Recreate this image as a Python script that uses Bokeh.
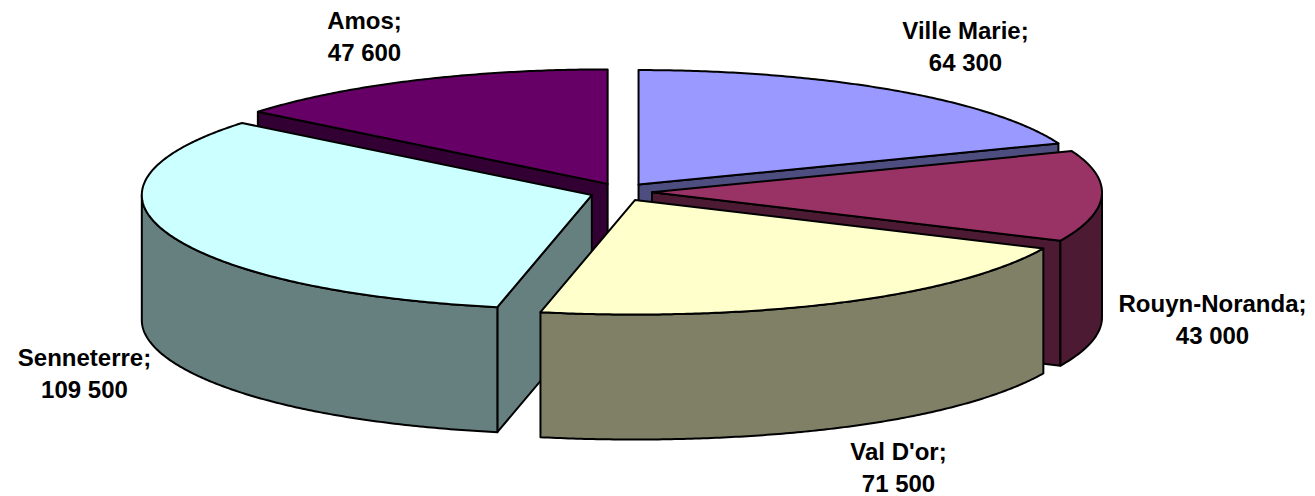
import math
from bokeh.plotting import figure
from bokeh.embed import file_html
from bokeh.resources import INLINE
from bokeh.core.properties import value as bk_value

names = ["Ville Marie", "Rouyn-Noranda", "Val D'or", "Senneterre", "Amos"]
values = [64300, 43000, 71500, 109500, 47600]
top_colors = ["#9999FF", "#993366", "#FFFFCC", "#CCFFFF", "#660066"]
wall_colors = ["#4D4D80", "#4D1A33", "#808066", "#668080", "#330033"]

# layout of the projected pie, in screen pixels
CX, CY, RX, RY = 620.5, 191.5, 450.0, 114.5
DEPTH = 125.0
EX, EY = 31.0, 9.0
FRONT_WIDEN = 0.045  # slight perspective widening at the front of the pie
label_x = [965, 1212, 898, 84, 364]
label_y = [30, 303, 451, 357, 20]
LINE_GAP = 32
PAINT_ORDER = [4, 0, 3, 1, 2]

p = figure(width=1315, height=496, x_range=(0, 1315), y_range=(496, 0),
           output_backend="svg", toolbar_location=None, min_border=0)
p.axis.visible = False
p.grid.visible = False
p.outline_line_color = None

total = sum(values)
spans = []
acc = 0.0
for v in values:
    spans.append((acc, acc + 360.0 * v / total))
    acc = spans[-1][1]


def rim(cx, cy, t0, t1, dz=0.0):
    n = max(2, int((t1 - t0) * 2))
    pts = []
    for i in range(n + 1):
        t = math.radians(t0 + (t1 - t0) * i / n)
        c = math.cos(t)
        widen = 1 + FRONT_WIDEN * c ** 4 if c < 0 else 1
        pts.append((cx + RX * math.sin(t) * widen, cy - RY * c + dz))
    return pts


def poly(pts, color):
    p.patch([q[0] for q in pts], [q[1] for q in pts], fill_color=color,
            line_color="black", line_width=2, line_join="round")


for i in PAINT_ORDER:
    t0, t1 = spans[i]
    mid = math.radians((t0 + t1) / 2)
    cx = CX + EX * math.sin(mid)
    cy = CY - EY * math.cos(mid)
    a = rim(cx, cy, t0, t0 + 1e-6)[0]
    b = rim(cx, cy, t1 - 1e-6, t1)[-1]
    # radial cut faces that look towards the viewer
    if 180 < t0 < 360:
        poly([(cx, cy), a, (a[0], a[1] + DEPTH), (cx, cy + DEPTH)], wall_colors[i])
    if 0 < t1 < 180:
        poly([(cx, cy), b, (b[0], b[1] + DEPTH), (cx, cy + DEPTH)], wall_colors[i])
    # outer wall, front half only
    w0, w1 = max(t0, 90), min(t1, 270)
    if w1 > w0:
        poly(rim(cx, cy, w0, w1) + rim(cx, cy, w0, w1, DEPTH)[::-1], wall_colors[i])
    # top face
    poly([(cx, cy)] + rim(cx, cy, t0, t1), top_colors[i])

for name, v, x, y in zip(names, values, label_x, label_y):
    p.text([x, x], [y, y + LINE_GAP], text=[name + ";", f"{v:,}".replace(",", " ")],
           text_font=bk_value("Liberation Sans"), text_font_style="bold",
           text_font_size="24px", text_align="center", text_baseline="middle",
           text_color="black")

open("out.html", "w").write(file_html(p, INLINE))
